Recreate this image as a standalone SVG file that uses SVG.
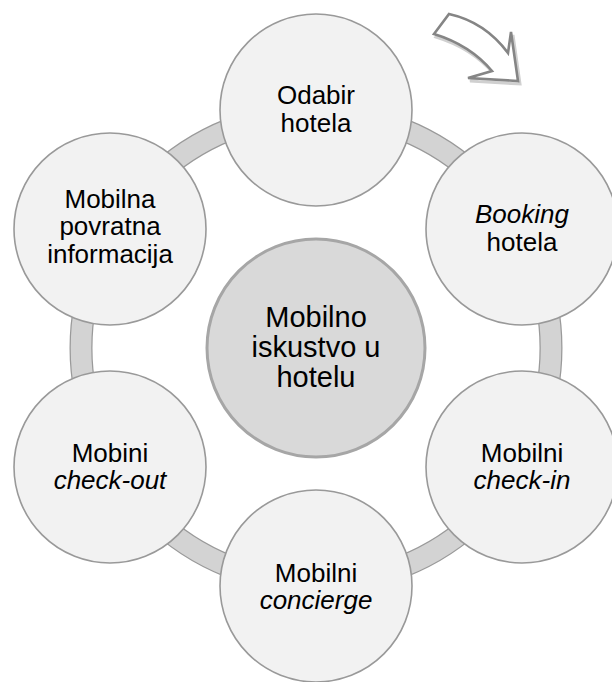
<svg xmlns="http://www.w3.org/2000/svg" width="612" height="682" viewBox="0 0 612 682">
<defs>
<style>
.node{fill:#f2f2f2;stroke:#999999;stroke-width:1.6}
.hub{fill:#d9d9d9;stroke:#a6a6a6;stroke-width:3}
text{font-family:"Liberation Sans",Arial,sans-serif;font-size:26px;fill:#000;text-anchor:middle}
.hubt{font-size:29px}
.it{font-style:italic}
</style>
<filter id="soft" x="-20%" y="-20%" width="140%" height="140%"><feGaussianBlur stdDeviation="0.6"/></filter>
</defs>
<rect width="612" height="682" fill="#ffffff"/>
<g id="connectors">
<circle cx="316" cy="348" r="235" fill="none" stroke="#9a9a9a" stroke-width="23"/>
<circle cx="316" cy="348" r="235" fill="none" stroke="#d3d3d3" stroke-width="20.5"/>
</g>
<g id="arrow" filter="url(#soft)">
<path d="M451,17 Q487,25 510,56 L513,35 L520,84 L470,81 L494,74 Q472,48 436,37 Z" fill="none" stroke="#d0d0d0" stroke-width="3"/>
<path d="M449,14 Q485,22 508,53 L511,32 L518,81 L468,78 L492,71 Q470,45 434,34 Z" fill="#ffffff" stroke="#858585" stroke-width="2.6" stroke-linejoin="miter"/>
</g>
<g id="hub">
<circle class="hub" cx="316" cy="348" r="109"/>
<text class="hubt" x="316" y="327">Mobilno</text>
<text class="hubt" x="316" y="357">iskustvo u</text>
<text class="hubt" x="316" y="387">hotelu</text>
</g>
<g id="n1">
<circle class="node" cx="316" cy="110" r="96"/>
<text x="316" y="104">Odabir</text>
<text x="316" y="132">hotela</text>
</g>
<g id="n2">
<circle class="node" cx="522" cy="229" r="96"/>
<text class="it" x="522" y="223">Booking</text>
<text x="522" y="251">hotela</text>
</g>
<g id="n3">
<circle class="node" cx="522" cy="467" r="96"/>
<text x="522" y="462">Mobilni</text>
<text class="it" x="522" y="489">check-in</text>
</g>
<g id="n4">
<circle class="node" cx="316" cy="586" r="96"/>
<text x="316" y="582">Mobilni</text>
<text class="it" x="316" y="609">concierge</text>
</g>
<g id="n5">
<circle class="node" cx="110" cy="467" r="96"/>
<text x="110" y="462">Mobini</text>
<text class="it" x="110" y="489">check-out</text>
</g>
<g id="n6">
<circle class="node" cx="110" cy="229" r="96"/>
<text x="110" y="208">Mobilna</text>
<text x="110" y="235">povratna</text>
<text x="110" y="263">informacija</text>
</g>
</svg>
